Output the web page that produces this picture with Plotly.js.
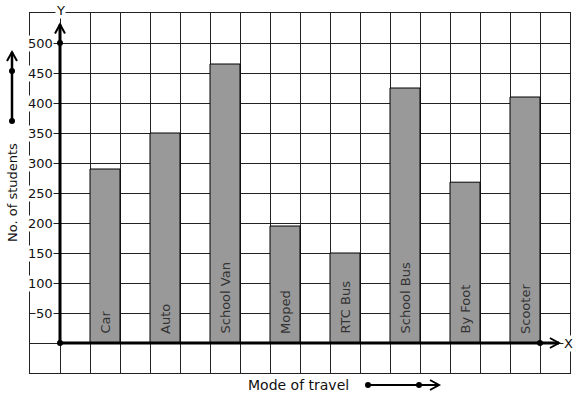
<!DOCTYPE html>
<html>
<head>
<meta charset="utf-8">
<script src="https://cdn.plot.ly/plotly-3.0.1.min.js"></script>
<style>html,body{margin:0;padding:0;background:#fff;}</style>
</head>
<body>
<div id="chart" style="width:577px;height:399px;"></div>
<script>
// ---- data ----
const categories = ['Car', 'Auto', 'School Van', 'Moped', 'RTC Bus', 'School Bus', 'By Foot', 'Scooter'];
const students = [290, 350, 465, 195, 150, 425, 268, 410];
const yTickValues = [50, 100, 150, 200, 250, 300, 350, 400, 450, 500];
const yTickLabels = ['50', '100', '150', '200', '250', '300', '350', '400', '450', '500'];
const xTitle = 'Mode of travel';
const yTitle = 'No. of students';

// bar slots: one grid cell wide, every other cell starting at the second cell
const positions = categories.map((c, i) => 1.5 + 2 * i);

const FONT = 'DejaVu Sans, sans-serif';

const bars = {
  type: 'bar',
  x: positions,
  y: students,
  width: 1,
  marker: {color: '#999999', line: {color: '#000', width: 1}},
  hoverinfo: 'skip',
  showlegend: false
};

const annotations = [];
// rotated category labels inside the bars
categories.forEach((c, i) => {
  annotations.push({
    x: positions[i], y: 0, xref: 'x', yref: 'y',
    text: c, showarrow: false, textangle: -90,
    xanchor: 'center', yanchor: 'bottom', yshift: 7,
    font: {family: FONT, size: 13, color: '#333'}
  });
});
// y tick labels with white background over the grid
yTickValues.forEach((v, i) => {
  annotations.push({
    x: 0, y: v, xref: 'x', yref: 'y',
    text: yTickLabels[i], showarrow: false,
    xanchor: 'right', yanchor: 'middle', xshift: -6,
    bgcolor: '#fff', borderpad: 0,
    font: {family: FONT, size: 13, color: '#111'}
  });
});
annotations.push({x: 1, y: 0, xref: 'paper', yref: 'y', text: 'X', showarrow: false,
  xanchor: 'center', yanchor: 'middle', xshift: -2, bgcolor: '#fff', borderpad: 0,
  font: {family: FONT, size: 13, color: '#111'}});
annotations.push({x: 0, y: 1, xref: 'x', yref: 'paper', text: 'Y', showarrow: false,
  xanchor: 'center', yanchor: 'middle', yshift: 3, bgcolor: '#fff', borderpad: 0,
  font: {family: FONT, size: 13, color: '#111'}});
// titles
annotations.push({x: (298 - 30) / 540, y: (373 - 385) / 360, xref: 'paper', yref: 'paper',
  text: xTitle, showarrow: false, xanchor: 'center', yanchor: 'middle',
  font: {family: FONT, size: 14, color: '#111'}});
annotations.push({x: (12 - 30) / 540, y: (373 - 193) / 360, xref: 'paper', yref: 'paper',
  text: yTitle, showarrow: false, textangle: -90, xanchor: 'center', yanchor: 'middle',
  font: {family: FONT, size: 13, color: '#111'}});

const px = p => (p - 30) / 540;   // page pixel -> paper x
const py = p => (373 - p) / 360;  // page pixel -> paper y

function dot(xref, yref, xa, ya) {
  return {type: 'circle', xref: xref, yref: yref, xsizemode: 'pixel', ysizemode: 'pixel',
    xanchor: xa, yanchor: ya, x0: -3, x1: 3, y0: -3, y1: 3,
    fillcolor: '#000', line: {width: 0}, layer: 'above'};
}
function chevron(xref, yref, xa, ya, path, w) {
  return {type: 'path', xref: xref, yref: yref, xsizemode: 'pixel', ysizemode: 'pixel',
    xanchor: xa, yanchor: ya, path: path, line: {color: '#000', width: w}, layer: 'above'};
}
function seg(xref, yref, x0, y0, x1, y1, w) {
  return {type: 'line', xref: xref, yref: yref, x0: x0, y0: y0, x1: x1, y1: y1,
    line: {color: '#000', width: w}, layer: 'above'};
}
const UP = 'M -5,-9 L 0,0 L 5,-9';
const RIGHT = 'M -9,5 L 0,0 L -9,-5';
const shapes = [
  // axes
  seg('x', 'y', 0, 0, 0, 531, 3),
  seg('x', 'y', 0, 0, 16.63, 0, 3),
  chevron('x', 'y', 0, 531, UP, 2),
  chevron('x', 'y', 16.63, 0, RIGHT, 2),
  dot('x', 'y', 0, 0),
  dot('x', 'y', 0, 500),
  dot('x', 'y', 16, 0),
  // decorative arrow beside y title
  seg('paper', 'paper', px(12), py(121), px(12), py(52), 2.5),
  chevron('paper', 'paper', px(12), py(52), UP, 2),
  dot('paper', 'paper', px(12), py(71)),
  dot('paper', 'paper', px(12), py(121)),
  // decorative arrow beside x title
  seg('paper', 'paper', px(368), py(385), px(439), py(385), 2),
  chevron('paper', 'paper', px(439), py(385), RIGHT, 2),
  dot('paper', 'paper', px(368), py(385)),
  dot('paper', 'paper', px(419), py(385))
];

const layout = {
  width: 577, height: 399,
  margin: {l: 30, r: 7, t: 13, b: 26, pad: 0},
  paper_bgcolor: '#fff', plot_bgcolor: '#fff',
  font: {family: FONT, size: 12, color: '#111'},
  showlegend: false,
  xaxis: {
    range: [-1, 17], tick0: 0, dtick: 1, showgrid: true, gridcolor: '#222', gridwidth: 1,
    zeroline: false, showticklabels: false, ticks: '',
    showline: true, mirror: true, linecolor: '#222', linewidth: 1, fixedrange: true
  },
  yaxis: {
    range: [-50, 550], tick0: 0, dtick: 50, showgrid: true, gridcolor: '#222', gridwidth: 1,
    zeroline: false, showticklabels: false, ticks: '',
    showline: true, mirror: true, linecolor: '#222', linewidth: 1, fixedrange: true
  },
  annotations: annotations,
  shapes: shapes
};

Plotly.newPlot('chart', [bars], layout, {staticPlot: true, displayModeBar: false});
</script>
</body>
</html>
